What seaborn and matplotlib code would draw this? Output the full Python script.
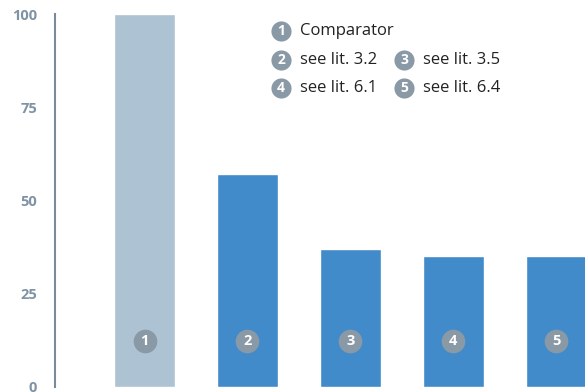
import matplotlib
matplotlib.use("Agg")
import matplotlib.pyplot as plt
import seaborn as sns
import pandas as pd

categories = ["1", "2", "3", "4", "5"]
values = [100, 57, 37, 35, 35]
legend_labels = ["Comparator", "see lit. 3.2", "see lit. 3.5", "see lit. 6.1", "see lit. 6.4"]
yticks = [0, 25, 50, 75, 100]

bar_colors = ["#adc2d2", "#428bca", "#428bca", "#428bca", "#428bca"]
badge_color = "#8a99a6"
tick_color = "#7f93a5"

sns.set_theme(style="white")
plt.rcParams["font.family"] = ["Open Sans", "DejaVu Sans"]

W, H = 585, 392
fig = plt.figure(figsize=(W / 100, H / 100), dpi=100)
ax = fig.add_axes([55 / W, 5 / H, (W - 55) / W, (387 - 14) / H])

df = pd.DataFrame({"cat": categories, "val": values})
sns.barplot(data=df, x="cat", y="val", hue="cat", palette=bar_colors,
            width=0.59, legend=False, ax=ax, saturation=1)

ax.set_xlim(-0.87, 4.28)
ax.set_ylim(0, 100)
ax.set_yticks(yticks)
ax.set_yticklabels([str(t) for t in yticks], fontsize=10.5, fontweight="bold", color=tick_color)
ax.tick_params(axis="y", length=0, pad=13)
ax.set_xticks([])
ax.set_xlabel("")
ax.set_ylabel("")
for s in ["top", "right", "bottom"]:
    ax.spines[s].set_visible(False)
ax.spines["left"].set_color("#7a8a98")
ax.spines["left"].set_linewidth(1.5)

# badges in bars
for i, c in enumerate(categories):
    ax.scatter(i, 12.4, s=290, color=badge_color, zorder=3, linewidths=0)
    ax.text(i, 12.4, c, ha="center", va="center", color="white",
            fontsize=10.5, fontweight="bold", zorder=4)

# legend with numbered badges (pixel positions converted to figure coords)
legend_pos = [(281, 31), (281, 60), (404, 60), (281, 88), (404, 88)]
for c, lab, (px, py) in zip(categories, legend_labels, legend_pos):
    fx, fy = px / W, 1 - py / H
    fig.add_artist(plt.Line2D([fx], [fy], marker="o", markersize=14.5,
                              color=badge_color, markeredgewidth=0,
                              transform=fig.transFigure))
    fig.text(fx, fy, c, ha="center", va="center", color="white",
             fontsize=10, fontweight="bold")
    fig.text(fx + 19 / W, fy, lab, ha="left", va="center", color="#222222",
             fontsize=12)

fig.savefig("out.png", dpi=100)
